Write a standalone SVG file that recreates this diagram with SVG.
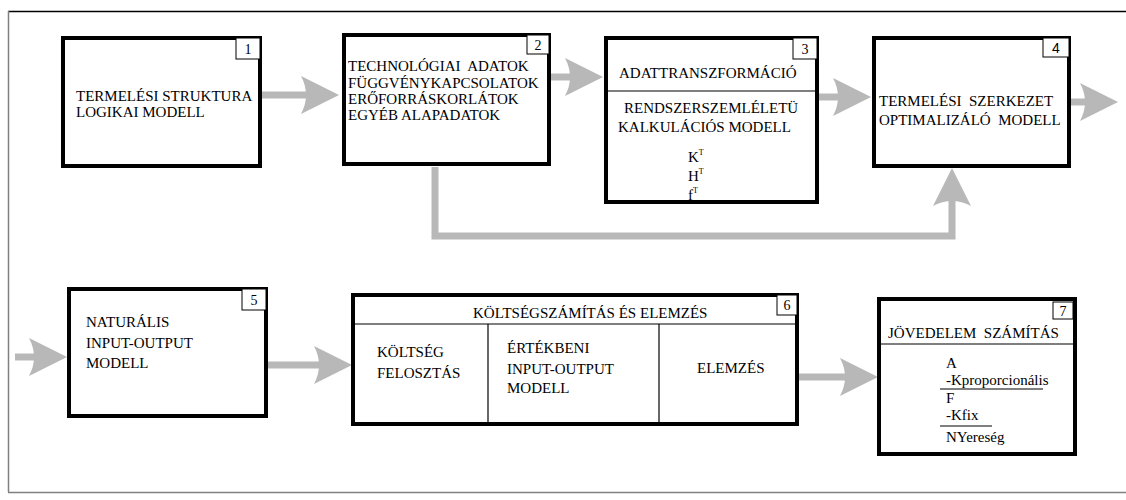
<svg xmlns="http://www.w3.org/2000/svg" width="1126" height="500" viewBox="0 0 1126 500">
<style>
.box{fill:#fff;stroke:#000;stroke-width:4}
.num{fill:#fff;stroke:#000;stroke-width:1}
.div{stroke:#000;stroke-width:1.2;fill:none}
text{font-family:'Liberation Serif','Times New Roman',serif;font-size:15px;fill:#000;white-space:pre}
.n{font-size:14px;text-anchor:middle}
.sup{font-size:8px}
.shaft{stroke:#b8b8b8;stroke-width:7;fill:none}
.head{fill:#b8b8b8}
</style>
<defs>
<path id="ah" d="M0,0 L-38,-19 Q-28,0 -38,19 Z"/>
</defs>
<rect width="1126" height="500" fill="#fff"/>
<g id="frame">
<line x1="8" y1="11.5" x2="1126" y2="11.5" stroke="#000" stroke-width="1.5"/>
<line x1="8.5" y1="11" x2="8.5" y2="492" stroke="#808080" stroke-width="1.5"/>
<line x1="8" y1="492.5" x2="1126" y2="492.5" stroke="#808080" stroke-width="1.5"/>
</g>
<g id="connectors">
<line class="shaft" x1="261" y1="95" x2="310" y2="95"/>
<use href="#ah" class="head" transform="translate(339,95)"/>
<line class="shaft" x1="550" y1="77" x2="580" y2="77"/>
<use href="#ah" class="head" transform="translate(603,77)"/>
<line class="shaft" x1="818" y1="97" x2="850" y2="97"/>
<use href="#ah" class="head" transform="translate(871,97)"/>
<line class="shaft" x1="1070" y1="102" x2="1090" y2="102"/>
<use href="#ah" class="head" transform="translate(1118,102)"/>
<polyline class="shaft" points="435,167 435,236 952,236 952,195"/>
<use href="#ah" class="head" transform="translate(952,168) rotate(-90)"/>
<line class="shaft" x1="15" y1="357" x2="40" y2="357"/>
<use href="#ah" class="head" transform="translate(67,357)"/>
<line class="shaft" x1="267" y1="365" x2="325" y2="365"/>
<use href="#ah" class="head" transform="translate(352,365)"/>
<line class="shaft" x1="798" y1="377" x2="850" y2="377"/>
<use href="#ah" class="head" transform="translate(878,377)"/>
</g>
<g id="node1">
<rect class="box" x="63" y="38" width="197" height="128"/>
<rect class="num" x="236" y="38" width="24" height="21"/>
<text class="n" x="248" y="54">1</text>
<text x="76" y="101">TERMELÉSI STRUKTURA</text>
<text x="76" y="117">LOGIKAI MODELL</text>
</g>
<g id="node2">
<rect class="box" x="344" y="35" width="205" height="129"/>
<rect class="num" x="527" y="35" width="22" height="19"/>
<text class="n" x="538" y="50">2</text>
<text x="348" y="71">TECHNOLÓGIAI  ADATOK</text>
<text x="348" y="88">FÜGGVÉNYKAPCSOLATOK</text>
<text x="348" y="104">ERŐFORRÁSKORLÁTOK</text>
<text x="348" y="120">EGYÉB ALAPADATOK</text>
</g>
<g id="node3">
<rect class="box" x="606" y="38" width="211" height="164"/>
<rect class="num" x="793" y="38" width="24" height="21"/>
<text class="n" x="805" y="54">3</text>
<line class="div" x1="606" y1="91" x2="817" y2="91"/>
<text x="619" y="78">ADATTRANSZFORMÁCIÓ</text>
<text x="624" y="113">RENDSZERSZEMLÉLETÜ</text>
<text x="618" y="132">KALKULÁCIÓS MODELL</text>
<text x="688" y="162">K<tspan class="sup" dy="-7">T</tspan></text>
<text x="688" y="181">H<tspan class="sup" dy="-7">T</tspan></text>
<text x="688" y="200">f<tspan class="sup" dy="-7">T</tspan></text>
</g>
<g id="node4">
<rect class="box" x="874" y="38" width="195" height="128"/>
<rect class="num" x="1043" y="38" width="26" height="19"/>
<text class="n" x="1056" y="53" style="font-family:'Liberation Sans',Arial,sans-serif">4</text>
<text x="879" y="106">TERMELÉSI  SZERKEZET</text>
<text x="879" y="125">OPTIMALIZÁLÓ  MODELL</text>
</g>
<g id="node5">
<rect class="box" x="69" y="289" width="197" height="127"/>
<rect class="num" x="242" y="289" width="24" height="21"/>
<text class="n" x="254" y="305">5</text>
<text x="86" y="327">NATURÁLIS</text>
<text x="86" y="348">INPUT-OUTPUT</text>
<text x="86" y="368">MODELL</text>
</g>
<g id="node6">
<rect class="box" x="353" y="295" width="444" height="129"/>
<rect class="num" x="777" y="295" width="20" height="20"/>
<text class="n" x="787" y="310">6</text>
<line class="div" x1="353" y1="324" x2="797" y2="324"/>
<line class="div" x1="488" y1="324" x2="488" y2="424"/>
<line class="div" x1="659" y1="324" x2="659" y2="424"/>
<text x="473" y="318">KÖLTSÉGSZÁMÍTÁS ÉS ELEMZÉS</text>
<text x="377" y="357">KÖLTSÉG</text>
<text x="377" y="378">FELOSZTÁS</text>
<text x="507" y="353">ÉRTÉKBENI</text>
<text x="507" y="374">INPUT-OUTPUT</text>
<text x="507" y="393">MODELL</text>
<text x="697" y="373">ELEMZÉS</text>
</g>
<g id="node7">
<rect class="box" x="879" y="299" width="196" height="155"/>
<rect class="num" x="1053" y="302" width="20" height="17"/>
<text class="n" x="1063" y="316">7</text>
<line class="div" x1="879" y1="344" x2="1075" y2="344"/>
<text x="888" y="338">JÖVEDELEM  SZÁMÍTÁS</text>
<text x="946" y="368">A</text>
<text x="946" y="385">-Kproporcionális</text>
<line class="div" x1="940" y1="389" x2="1043" y2="389"/>
<text x="946" y="403">F</text>
<text x="946" y="420">-Kfix</text>
<line class="div" x1="940" y1="426" x2="992" y2="426"/>
<text x="946" y="442">NYereség</text>
</g>
</svg>
